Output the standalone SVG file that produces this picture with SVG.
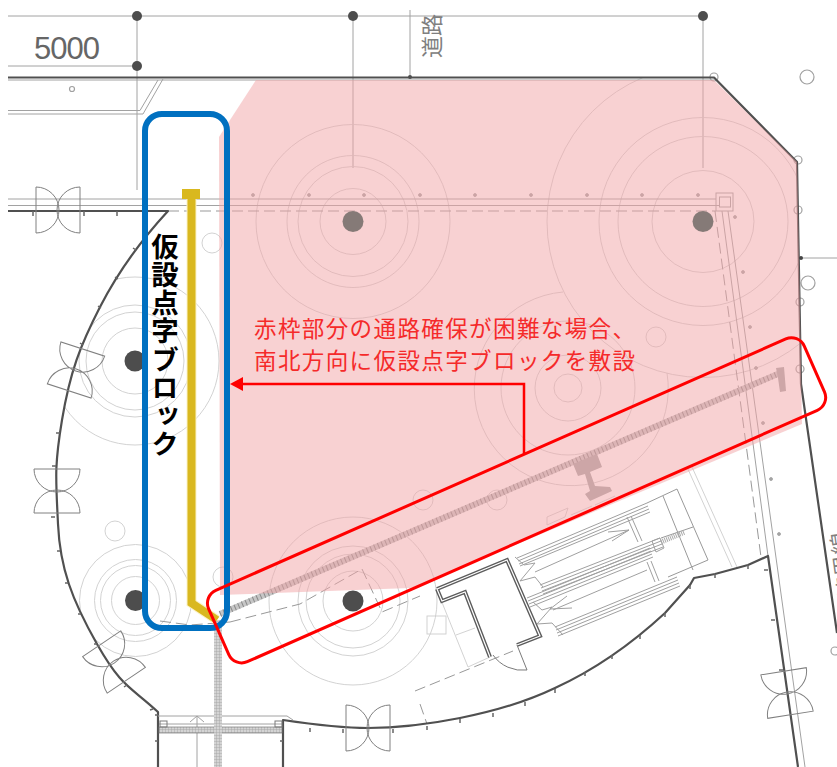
<svg xmlns="http://www.w3.org/2000/svg" width="837" height="767" viewBox="0 0 837 767">
<style>
.jp{font-family:"Noto Sans CJK JP","Noto Sans",sans-serif}
.c{fill:none;stroke:#cdcdcd;stroke-width:.9}
.l{fill:none;stroke:#a2a2a2;stroke-width:1}
.m{fill:none;stroke:#7a7a7a;stroke-width:1}
.w{fill:none;stroke:#505050;stroke-width:2.200;stroke-linejoin:round}
.dash{fill:none;stroke:#999;stroke-width:1;stroke-dasharray:11 5}
.door{fill:none;stroke:#808080;stroke-width:1}
.hole{fill:none;stroke:#a0a0a0;stroke-width:1.200}
.pin{fill:#aaa;stroke:#888;stroke-width:.6}
.tick{fill:none;stroke:#666;stroke-width:1.500}
</style>
<defs>
<path id="d" d="M-22 -23A23 23 0 0 1 1 0A23 23 0 0 1 -22 23ZM22 -23A23 23 0 0 0 -1 0A23 23 0 0 0 22 23Z"/>
<pattern id="tb" width="3" height="3" patternUnits="userSpaceOnUse"><rect width="3" height="3" fill="#d4d4d4"/><path d="M0 0H3M0 0V3" stroke="#9f9f9f" stroke-width=".8"/></pattern>
<clipPath id="site"><path d="M168 78H714L797 162L801 384L768 556L690 585L612 655L525 700L420 725L283 725L158 712L97 644L68 584L57 500L62 420L75 360L100 307L133 248L168 211Z"/></clipPath>
</defs>
<rect width="837" height="767" fill="#fff"/>
<g id="plan">
<g id="dimensions">
<path class="l" d="M8 16H703M8 66H137M353 16V168M703 16V168M137 16V190M410 10V78" stroke="#8e8e8e"/>
<circle cx="137" cy="16" r="5" fill="#4d4d4d"/><circle cx="353" cy="16" r="5" fill="#4d4d4d"/><circle cx="703" cy="16" r="5" fill="#4d4d4d"/><circle cx="137" cy="66" r="5" fill="#4d4d4d"/><circle cx="410" cy="77" r="2" fill="#4d4d4d"/>
<text x="34" y="59" font-family="Liberation Sans,sans-serif" font-size="31" letter-spacing="-1" fill="#666">5000</text>
<text transform="translate(440 58) rotate(-90)" class="jp" font-size="22" fill="#808080">道路</text>
<text transform="translate(862 640) rotate(-98)" class="jp" font-size="22" fill="#808080">道路境界線</text>
</g>
<g id="trees">
<g clip-path="url(#site)">
<circle class="c" cx="353" cy="221.500" r="97"/><circle class="c" cx="353" cy="221.500" r="66"/><circle class="c" cx="353" cy="221.500" r="55"/><circle class="c" cx="353" cy="221.500" r="33"/>
<circle class="c" cx="703" cy="221.500" r="156"/><circle class="c" cx="703" cy="221.500" r="104"/><circle class="c" cx="703" cy="221.500" r="85"/><circle class="c" cx="703" cy="221.500" r="51"/>
<circle class="c" cx="135" cy="361" r="84"/><circle class="c" cx="135" cy="361" r="56"/><circle class="c" cx="135" cy="361" r="49"/><circle class="c" cx="135" cy="361" r="33"/>
<circle class="c" cx="135.500" cy="600.500" r="56"/><circle class="c" cx="135.500" cy="600.500" r="41"/><circle class="c" cx="135.500" cy="600.500" r="35"/><circle class="c" cx="135.500" cy="600.500" r="24"/>
<circle class="c" cx="353" cy="601" r="84"/><circle class="c" cx="353" cy="601" r="55"/><circle class="c" cx="353" cy="601" r="47"/><circle class="c" cx="353" cy="601" r="30"/>
<path class="c" d="M667 373A97 97 0 1 1 563 292"/><circle class="c" cx="568" cy="388" r="67"/><circle class="c" cx="568" cy="388" r="33"/><circle class="c" cx="568" cy="388" r="14"/>
</g>
<circle class="c" cx="212" cy="243" r="10"/><circle class="c" cx="115" cy="531" r="10"/><circle class="c" cx="223" cy="577" r="10"/><circle class="c" cx="656" cy="337" r="10"/><circle class="c" cx="497" cy="500" r="10"/><circle class="c" cx="423" cy="500" r="10"/>
<circle cx="135" cy="361" r="10.500" fill="#4d4d4d"/><circle cx="135.500" cy="600.500" r="10.500" fill="#4d4d4d"/>
<circle class="hole" cx="714" cy="77" r="4"/><circle class="hole" cx="807" cy="77" r="7"/><circle class="hole" cx="798" cy="160" r="4"/><circle class="hole" cx="798" cy="210" r="4"/><circle class="hole" cx="808" cy="283" r="7"/><circle class="hole" cx="800" cy="302" r="4"/><circle class="hole" cx="800" cy="369" r="4"/><circle class="hole" cx="835" cy="651" r="4"/><circle class="hole" cx="72" cy="89" r="2.500"/>
</g>
<g id="walls">
<path class="l" d="M8 80H714M8 110.500H140L158 80M8 114H143L163 79M8 199H716M8 205.500H719"/>
<path class="dash" d="M168 211H716M715 211L761 557M362 569L382 612L420 596M230 622L300 604L362 569M160 621L190 625L230 622M415 691L513 651M420 704L427 724"/>
<path class="l" d="M722 211L768 556M728 211L805 767"/>
<path class="c" d="M687 467L732 567M692 467L737 567M437 590L468 667L490 657M456 635L475 628"/>
<rect class="l" x="716" y="193" width="17" height="18"/><rect class="l" x="719.500" y="197" width="11" height="10"/>
<path class="w" d="M8 77.500H714L797 162L801 384L837 633"/>
<path class="w" d="M8 211H168C145 236 120 268 100 307S70 372 62 420S56 480 58 524S72 600 97 644S130 686 158 712V767"/>
<path class="w" d="M283 767V720C310 724 340 728 368 728C400 728 430 724 460 718C495 711 530 700 555 688C590 672 625 650 665 613L690 585L694 578L715 574L748 565L768 556L798 767"/>
<path class="tick" d="M33 211v5M84 211v5M117 211v5M133 248l3 2M115 277l3 2M98 306l3 2M80 343l3 2M60 433h-4M56 466h-4M55 517h-4M60 551h-3M68 583h-3M81 614h-3M97 644h-3M127 685l-3 2M150 710l3-1M158 715h-3M158 741h-3M283 741h-3M310 728v4M343 729v4M393 729v4M427 726v4M460 719v4M493 713v4M525 702v4M555 689v4M585 672v4M612 655v4M640 635v4M665 613v4M690 585v4M715 574v4M748 565v4M768 570h-4M775 620h-4M783 670h-4"/>
<g><circle class="pin" cx="253" cy="195" r="1.500"/><circle class="pin" cx="309" cy="195" r="1.500"/><circle class="pin" cx="364" cy="195" r="1.500"/><circle class="pin" cx="420" cy="195" r="1.500"/><circle class="pin" cx="475" cy="195" r="1.500"/><circle class="pin" cx="531" cy="195" r="1.500"/><circle class="pin" cx="587" cy="195" r="1.500"/><circle class="pin" cx="642" cy="195" r="1.500"/><circle class="pin" cx="698" cy="195" r="1.500"/><circle class="pin" cx="735" cy="217" r="1.500"/><circle class="pin" cx="743" cy="272" r="1.500"/><circle class="pin" cx="750" cy="327" r="1.500"/><circle class="pin" cx="756" cy="368" r="1.500"/><circle class="pin" cx="763" cy="423" r="1.500"/><circle class="pin" cx="771" cy="479" r="1.500"/><circle class="pin" cx="779" cy="534" r="1.500"/></g>
<path d="M801 258H837" class="l"/><circle cx="801" cy="258" r="2" fill="#444"/>
</g>
<g id="doors">
<use href="#d" class="door" transform="translate(58 210)"/>
<use href="#d" class="door" transform="translate(76 370) rotate(108)"/>
<use href="#d" class="door" transform="translate(57 491) rotate(90)"/>
<use href="#d" class="door" transform="translate(114 662) rotate(-124)"/>
<use href="#d" class="door" transform="translate(368 728)"/>
<use href="#d" class="door" transform="translate(787 693) rotate(-99)"/>
</g>
<g id="entrance">
<path class="l" d="M158 716H287L293 720M159 724H282M197 716V767M190 722L197 716L204 722"/>
<rect x="159" y="727" width="123" height="6" fill="url(#tb)" stroke="#777" stroke-width=".7"/>
<rect class="m" x="160" y="721" width="7" height="6"/><rect class="m" x="275" y="721" width="7" height="6"/>
</g>
<g id="tactile">
<rect x="214" y="620" width="8" height="147" fill="url(#tb)"/>
<path d="M220 614L780 373" fill="none" stroke="#c6c6c6" stroke-width="6"/>
<path d="M220 614L780 373" fill="none" stroke="#8a8a8a" stroke-width="6" stroke-dasharray="1 3"/>
<path d="M776 368L784 367L786 391L780 392L778 378Z" fill="#a8a8a8"/>
<path d="M573 464L597 454L602 467L590 472L595 486L610 487L612 491L590 501L585 494L590 491L585 474L578 476Z" fill="#a8a8a8"/>
</g>
<g id="station">
<path class="c" d="M547 525L565 517L568 508L547 517ZM571 515L592 506M595 505L615 496" stroke="#aaa"/>
<path d="M647 503L677 489L708 560L668 577M663 496L693 570M661 538L693 527" fill="none" stroke="#999"/>
<path d="M437 589L507 560L540 636L517 645M490 657L465 592L442 601L437 589" fill="none" stroke="#5c5c5c" stroke-width="4"/>
<path d="M437 589L507 560L540 636L517 645M490 657L465 592L442 601L437 589" fill="none" stroke="#fff" stroke-width="1.200"/>
<path class="m" d="M517 645L527 670A36 36 0 0 1 493 655"/>
<g fill="none" stroke="#a0a0a0" stroke-width="1">
<path d="M517 558L647 503M518 561L648 506M519 564L649 509M520 566L650 512"/>
<path d="M540 585L660 538M541 588L661 541M542 591L662 544M543 594L663 547"/>
<path d="M527 598L650 548M528 601L651 551M529 604L652 554M530 607L653 557"/>
<path d="M555 627L677 577M556 630L678 580M557 633L679 583M558 636L680 586"/>
<path d="M535 572L629 530M608 532L629 530L612 541M553 610L647 570M567 596L550 609L572 608"/>
<path d="M515 557L524 565L535 563L520 581L535 577L543 587M537 624L552 607L542 610L533 602M537 624L552 623L563 635"/>
<path d="M627 517L638 542M631 516L642 541M647 562L655 582M651 561L659 581"/>
<path d="M652 541L660 538L664 548L656 552Z"/>
</g>
<path d="M661 542L685 532" fill="none" stroke="#aaa" stroke-width="5" stroke-dasharray="1 1"/>
<rect class="c" x="427" y="616" width="19" height="18"/>
</g>
</g>
<polygon id="zone" points="256,80 714,80 797,162 802,424 420,585 410,588 220,595 219,137 230,120" fill="#F1A3A6" fill-opacity=".5"/>
<circle cx="353" cy="221.500" r="10.500" fill="#857a77"/><circle cx="703" cy="221.500" r="10.500" fill="#857a77"/><circle cx="353" cy="601" r="10.500" fill="#4d4d4d"/>
<g id="blue-label">
<path d="M191.500 196V603L217 620" fill="none" stroke="#FBF3C8" stroke-width="10"/>
<rect x="182" y="189" width="18" height="10" fill="#D9B81F"/>
<path d="M191.500 196V603L217 620" fill="none" stroke="#D9B81F" stroke-width="8"/>
<rect x="145" y="114" width="82" height="514" rx="17" fill="none" stroke="#0070C0" stroke-width="6"/>
<text x="165" y="233" class="jp" font-size="27.500" letter-spacing=".6" font-weight="700" fill="#000" style="writing-mode:vertical-rl">仮設点字ブロック</text>
</g>
<g id="connectors">
<rect x="203" y="596" width="651" height="78" rx="14" fill="none" stroke="#FF0000" stroke-width="3" transform="rotate(-23.800 203 596)"/>
<path d="M524 454V384H240" fill="none" stroke="#FF0000" stroke-width="2.500"/>
<path d="M230 384L243 377V391Z" fill="#FF0000"/>
</g>
<g id="note" class="jp" font-size="22.500" letter-spacing="1.400" fill="#F52A2A">
<text x="254" y="337">赤枠部分の通路確保が困難な場合、</text>
<text x="254" y="369">南北方向に仮設点字ブロックを敷設</text>
</g>
</svg>
